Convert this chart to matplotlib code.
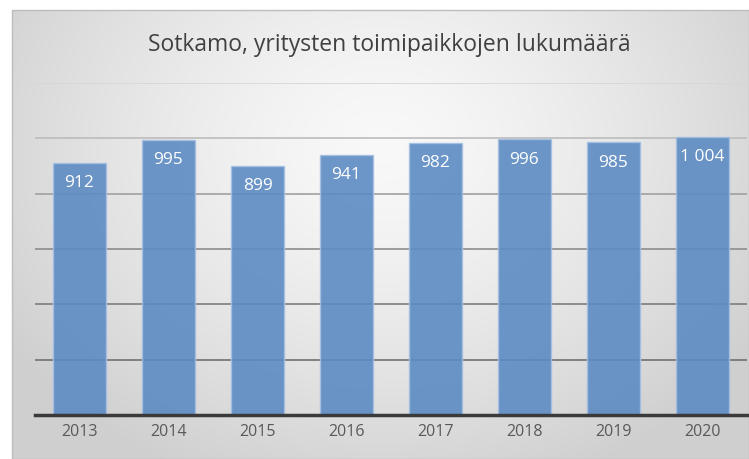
import numpy as np
import matplotlib
matplotlib.use("Agg")
import matplotlib.pyplot as plt

years = ["2013", "2014", "2015", "2016", "2017", "2018", "2019", "2020"]
values = [912, 995, 899, 941, 982, 996, 985, 1004]
labels = ["912", "995", "899", "941", "982", "996", "985", "1 004"]
grid_levels = [200, 400, 600, 800, 1000, 1200]
title = "Sotkamo, yritysten toimipaikkojen lukumäärä"

W, H = 749, 460
fig = plt.figure(figsize=(W / 100, H / 100), dpi=100)
fig.patch.set_facecolor("white")

# background chart area with radial gradient
bx0, by0 = 12, 11
bg = fig.add_axes([bx0 / W, 0, 1 - bx0 / W, 1 - by0 / H])
bg.set_axis_off()
ny, nx = 200, 300
yy, xx = np.mgrid[0:ny, 0:nx]
cx, cy = nx * 0.5, ny * 0.3
r = np.sqrt(((xx - cx) / (nx * 0.6)) ** 2 + ((yy - cy) / (ny * 0.8)) ** 2)
r = np.clip(r, 0, 1)
shade = 0.975 - 0.16 * r ** 1.4
img = np.dstack([shade, shade, shade])
bg.imshow(img, aspect="auto", extent=[0, 1, 0, 1], origin="upper")
bg.set_xlim(0, 1)
bg.set_ylim(0, 1)
bg.plot([0, 1, 1, 0, 0], [0, 0, 1, 1, 0], color="#bdbdbd", lw=1.0, transform=bg.transAxes, clip_on=False)

# plot axes
px0, px1 = 35, 747
py_top, py_bot = 84, 416
ax = fig.add_axes([px0 / W, 1 - py_bot / H, (px1 - px0) / W, (py_bot - py_top) / H])
ax.patch.set_alpha(0)
x = np.arange(len(years))
ax.set_xlim(-0.5, len(years) - 0.5)
ax.set_ylim(0, 1200)
ax.set_yticks([])
grid_colors = ["#707070", "#7d7d7d", "#8d8d8d", "#a0a0a0", "#bcbcbc", "#d6d6d6"]
for lvl, gc in zip(grid_levels, grid_colors):
    ax.axhline(lvl, color=gc, lw=1.2, zorder=2)
for s in ["top", "right", "left"]:
    ax.spines[s].set_visible(False)
ax.spines["bottom"].set_color("#3a3a3a")
ax.spines["bottom"].set_linewidth(2.5)
ax.spines["bottom"].set_zorder(6)

ax.bar(x, values, width=0.59, color="#5d8bc3", alpha=0.9,
       edgecolor="#a4c0e3", linewidth=1.0, zorder=3)
for xi, v, lab in zip(x, values, labels):
    ax.annotate(lab, (xi, v), xytext=(0, -8), textcoords="offset points",
                ha="center", va="top", color="white", fontsize=12.5,
                family="Open Sans", zorder=7)

ax.set_xticks(x)
ax.set_xticklabels(years, fontsize=11.5, color="#595959", family="Open Sans")
ax.tick_params(axis="x", length=0, pad=6)

fig.text(389 / W, 1 - 45 / H, title, ha="center", va="center", fontsize=16.5,
         color="#404040", family="Open Sans")

fig.savefig("out.png", dpi=100)
